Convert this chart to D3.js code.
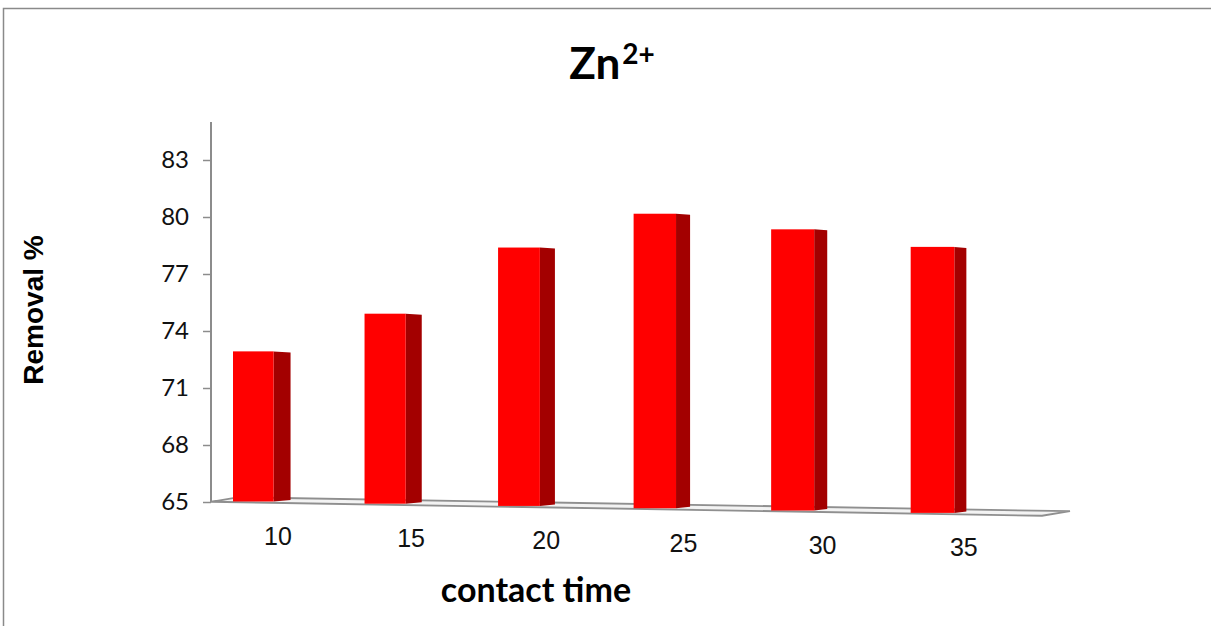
<!DOCTYPE html>
<html>
<head>
<meta charset="utf-8">
<script src="https://cdn.jsdelivr.net/npm/d3@7"></script>
<style>
  body { margin: 0; background: #fff; }
  svg { display: block; }
</style>
</head>
<body>
<svg id="chart" width="1211" height="626"></svg>
<script>
const times = ["10", "15", "20", "25", "30", "35"];
const removal = [72.9, 75.0, 78.6, 80.5, 79.8, 79.0];
const yTicks = [65, 68, 71, 74, 77, 80, 83];

const svg = d3.select("#chart");

// outer frame (right and bottom edges fall outside the picture)
svg.append("rect")
  .attr("x", 3.5).attr("y", 8.5)
  .attr("width", 1300).attr("height", 700)
  .attr("fill", "#fff")
  .attr("stroke", "#8a8a8a")
  .attr("stroke-width", 1.5);

const axisLeftX = 211;
const yScale = d3.scaleLinear().domain([65, 85]).range([502, 122]);

// bands in flat space, then a small perspective warp
const xScale = d3.scaleBand()
  .domain(times)
  .range([axisLeftX, 1000])
  .paddingInner(0.69)
  .paddingOuter(0.375)
  .align(0.225);
const warp = (px) => px + 5.9e-5 * (px - axisLeftX) ** 2;

// floor edges slope down to the right
const floorSlope = 0.0168;
const floorFront = (px) => 508.3 + floorSlope * (px - 600);
const floorBack = (px) => 503.3 + floorSlope * (px - 600);
const sideWidth = d3.scaleLinear().domain([233, 913]).range([17, 12]);

// floor
const floorPts = [
  [axisLeftX, floorFront(axisLeftX)],
  [1042, floorFront(1042)],
  [1070, floorBack(1070)],
  [239, floorBack(239)]
];
svg.append("polygon")
  .attr("points", floorPts.map((p) => p.join(",")).join(" "))
  .attr("fill", "#f3f3f3")
  .attr("stroke", "#8f8f8f")
  .attr("stroke-width", 1.8);

// y axis
const axisY = d3.axisLeft(yScale).tickValues(yTicks).tickSize(8).tickPadding(14);
const axisYGroup = svg.append("g")
  .attr("transform", `translate(${axisLeftX},0)`)
  .call(axisY);
axisYGroup.select(".domain").remove();
axisYGroup.append("line")
  .attr("x1", 0).attr("x2", 0)
  .attr("y1", yScale(85)).attr("y2", yScale(65))
  .attr("stroke", "#8c8c8c").attr("stroke-width", 2);
axisYGroup.selectAll(".tick line").attr("stroke", "#8c8c8c").attr("stroke-width", 1.5);
axisYGroup.selectAll(".tick text")
  .attr("font-family", "Lato, 'Open Sans', sans-serif")
  .attr("font-size", 24)
  .attr("fill", "#111");

// bars
const bars = times.map((t, i) => {
  const left = warp(xScale(t));
  const right = warp(xScale(t) + xScale.bandwidth());
  const bottom = floorFront((left + right) / 2) - 1;
  const top = bottom - (yScale(65) - yScale(removal[i]));
  return { t, left, right, bottom, top, side: sideWidth(left) };
});

const barGroup = svg.append("g");
barGroup.selectAll("polygon.side")
  .data(bars)
  .join("polygon")
  .attr("class", "side")
  .attr("points", (d) => [
    [d.right, d.top],
    [d.right + d.side, d.top + 1],
    [d.right + d.side, d.bottom - 1.5],
    [d.right, d.bottom]
  ].map((p) => p.join(",")).join(" "))
  .attr("fill", "#a30000");

barGroup.selectAll("rect.front")
  .data(bars)
  .join("rect")
  .attr("class", "front")
  .attr("x", (d) => d.left)
  .attr("y", (d) => d.top)
  .attr("width", (d) => d.right - d.left)
  .attr("height", (d) => d.bottom - d.top)
  .attr("fill", "#ff0000");

// category labels along the front edge of the floor
svg.append("g").selectAll("text")
  .data(bars)
  .join("text")
  .attr("x", (d) => d.left + 45 + 0.012 * (d.left - 233))
  .attr("y", (d) => floorFront(d.left + 45) + 42)
  .attr("text-anchor", "middle")
  .attr("font-family", "'Liberation Sans', Arial, sans-serif")
  .attr("font-size", 25)
  .attr("fill", "#111")
  .text((d) => d.t);

// title
const title = svg.append("text")
  .attr("x", 612)
  .attr("y", 79)
  .attr("text-anchor", "middle")
  .attr("font-family", "Lato, 'Open Sans', sans-serif")
  .attr("font-weight", "bold")
  .attr("font-size", 44)
  .attr("fill", "#000");
title.append("tspan").text("Zn");
title.append("tspan")
  .attr("dx", 2)
  .attr("dy", -15)
  .attr("font-size", 28)
  .text("2+");

// axis titles
svg.append("text")
  .attr("x", 536)
  .attr("y", 602)
  .attr("text-anchor", "middle")
  .attr("font-family", "Lato, 'Open Sans', sans-serif")
  .attr("font-weight", "bold")
  .attr("font-size", 34)
  .attr("fill", "#000")
  .text("contact time");

svg.append("text")
  .attr("transform", "translate(43,310) rotate(-90)")
  .attr("text-anchor", "middle")
  .attr("font-family", "'Liberation Sans', Arial, sans-serif")
  .attr("font-weight", "bold")
  .attr("font-size", 28)
  .attr("fill", "#000")
  .text("Removal %");
</script>
</body>
</html>
